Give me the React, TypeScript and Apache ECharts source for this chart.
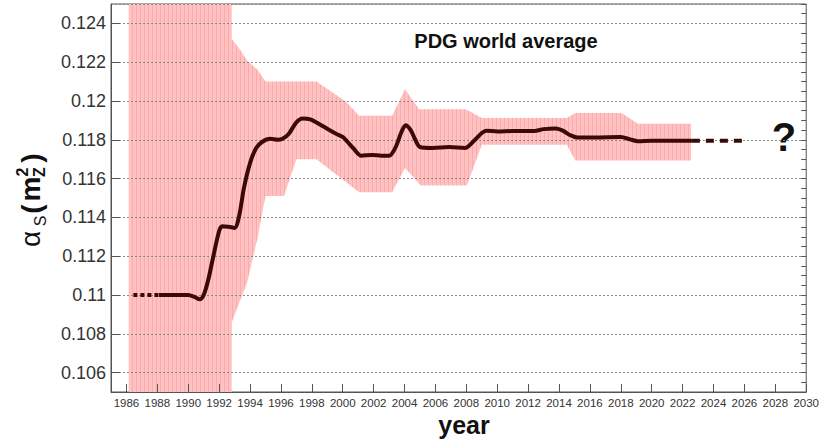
import React, { useEffect, useRef } from "react";
import * as echarts from "echarts";

// Central PDG world average (solid part)
const centralYears = [1988.1, 1989.0, 1990.0, 1990.4, 1990.75, 1991.0, 1991.3, 1991.6, 1992.0, 1992.2, 1992.6, 1993.0, 1993.3, 1993.6, 1994.0, 1994.4, 1994.8, 1995.3, 1995.8, 1996.1, 1996.5, 1997.0, 1997.4, 1997.9, 1998.5, 1999.1, 1999.6, 2000.0, 2000.3, 2000.7, 2001.2, 2001.9, 2002.5, 2003.0, 2003.4, 2003.8, 2004.07, 2004.4, 2004.7, 2005.0, 2005.8, 2006.9, 2007.9, 2008.5, 2009.0, 2009.3, 2010.0, 2011.0, 2012.4, 2013.0, 2013.8, 2014.3, 2014.7, 2015.2, 2016.3, 2018.0, 2018.6, 2019.1, 2020.0, 2022.6];
const centralValues = [0.1100, 0.1100, 0.1100, 0.1099, 0.10978, 0.1100, 0.1108, 0.1119, 0.1133, 0.11355, 0.11352, 0.11346, 0.1141, 0.1155, 0.1168, 0.11758, 0.1179, 0.11805, 0.118, 0.11805, 0.1183, 0.1189, 0.1191, 0.11905, 0.1188, 0.11852, 0.1183, 0.11815, 0.1179, 0.11755, 0.11718, 0.11722, 0.11718, 0.11718, 0.11758, 0.1184, 0.11875, 0.1185, 0.118, 0.11763, 0.11758, 0.11763, 0.11758, 0.11795, 0.11835, 0.11847, 0.11843, 0.11845, 0.11845, 0.11855, 0.11858, 0.11845, 0.11825, 0.11812, 0.11812, 0.11814, 0.11802, 0.11793, 0.11795, 0.11795];

// Early (dotted) and future (dashed) parts
const dottedYears = [1986.45, 1988.1];
const dottedValues = [0.1100, 0.1100];
const dashedYears = [2022.6, 2025.9];
const dashedValues = [0.11795, 0.11795];

// Uncertainty band
const bandYears = [1986.15, 1992.8, 1992.82, 1993.3, 1993.8, 1994.5, 1995.0, 1996.2, 1997.0, 1998.3, 2000.2, 2001.06, 2003.2, 2004.03, 2004.94, 2005.04, 2007.95, 2008.06, 2009.0, 2014.5, 2015.05, 2018.05, 2019.1, 2022.55];
const bandLow = [0.100, 0.100, 0.1086, 0.1096, 0.1106, 0.1130, 0.1151, 0.1151, 0.1170, 0.1170, 0.11583, 0.1153, 0.1153, 0.11655, 0.11575, 0.11564, 0.11564, 0.11570, 0.11775, 0.11775, 0.11693, 0.11693, 0.11693, 0.11693];
const bandHigh = [0.130, 0.130, 0.1232, 0.1227, 0.1221, 0.1216, 0.1210, 0.1210, 0.1210, 0.1210, 0.11998, 0.11924, 0.11924, 0.12061, 0.11958, 0.11958, 0.11958, 0.11953, 0.11912, 0.11912, 0.11938, 0.11938, 0.11883, 0.11883];

const FONT = "'Liberation Sans', Arial, Helvetica, sans-serif";
const LINE = "#3a0909";
const PINK = "#ffbaba";
const AXIS = "#555";

function zip(xs: number[], ys: number[]) {
  return xs.map((x, i) => [x, ys[i]]);
}

function makeStripes(): any {
  const c = document.createElement("canvas");
  c.width = 4;
  c.height = 4;
  const ctx = c.getContext("2d");
  if (!ctx) return PINK;
  ctx.fillStyle = "#ffc2c2";
  ctx.fillRect(0, 0, 4, 4);
  ctx.fillStyle = "#ffaaaa";
  ctx.fillRect(0, 0, 1, 4);
  return { image: c, repeat: "repeat" };
}

export default function App() {
  const ref = useRef<HTMLDivElement>(null);
  useEffect(() => {
    if (!ref.current) return;
    const chart = echarts.init(ref.current, undefined, { renderer: "svg" });
    const stripes = makeStripes();
    const rotText = (text: string, x: number, y: number, size: number, weight: string) => ({
      type: "text",
      x,
      y,
      rotation: Math.PI / 2,
      style: {
        text,
        fill: "#111",
        font: `${weight} ${size}px ${FONT}`,
        align: "center",
        verticalAlign: "middle",
        textAlign: "center",
        textVerticalAlign: "middle",
      },
    });
    const plainText = (text: string, x: number, y: number, size: number, weight: string) => ({
      type: "text",
      x,
      y,
      style: {
        text,
        fill: "#111",
        font: `${weight} ${size}px ${FONT}`,
        align: "center",
        verticalAlign: "middle",
        textAlign: "center",
        textVerticalAlign: "middle",
      },
    });
    const option: any = {
      animation: false,
      backgroundColor: "#fff",
      textStyle: { fontFamily: FONT },
      grid: {
        left: 111,
        top: 4,
        width: 698,
        height: 388,
        show: true,
        borderColor: AXIS,
        borderWidth: 1,
        backgroundColor: "transparent",
      },
      xAxis: {
        type: "value",
        min: 1985,
        max: 2030,
        minInterval: 2,
        maxInterval: 2,
        z: 2,
        axisLine: { show: true, lineStyle: { color: AXIS, width: 1 } },
        axisTick: { show: true, inside: true, length: 8, lineStyle: { color: AXIS } },
        axisLabel: {
          showMinLabel: false,
          fontSize: 11.5,
          color: "#333",
          margin: 5,
          fontFamily: FONT,
          formatter: (v: number) => String(Math.round(v)),
        },
        splitLine: { show: false },
      },
      yAxis: [
        {
          type: "value",
          min: 0.105,
          max: 0.125,
          minInterval: 0.002,
          maxInterval: 0.002,
          z: 2,
          axisLine: { show: true, lineStyle: { color: AXIS, width: 1 } },
          axisTick: { show: true, inside: true, length: 9, lineStyle: { color: AXIS } },
          axisLabel: { showMinLabel: false, showMaxLabel: false, fontSize: 18, color: "#333", margin: 5, fontFamily: FONT },
          splitLine: { show: true, lineStyle: { color: "#8a8a8a", type: [2, 2], width: 1 } },
        },
        {
          type: "value",
          min: 0.105,
          max: 0.125,
          interval: 0.0005,
          z: 2,
          axisLine: { show: false },
          axisTick: { show: true, inside: true, length: 5, lineStyle: { color: AXIS } },
          axisLabel: { show: false },
          splitLine: { show: false },
        },
      ],
      series: [
        {
          type: "custom",
          name: "band",
          data: [[bandYears[0], bandLow[0]]],
          encode: { x: 0, y: 1 },
          clip: true,
          silent: true,
          z: 1,
          renderItem: (_params: any, api: any) => {
            const top = bandYears.map((x, i) => api.coord([x, bandHigh[i]]));
            const bottom = bandYears.map((x, i) => api.coord([x, bandLow[i]])).reverse();
            return {
              type: "polygon",
              shape: { points: top.concat(bottom) },
              style: { fill: stripes, stroke: "none" },
            };
          },
        },
        {
          type: "line",
          name: "average",
          data: zip(centralYears, centralValues),
          symbol: "none",
          smooth: 0.3,
          lineStyle: { color: LINE, width: 4 },
          z: 4,
        },
        {
          type: "line",
          name: "early",
          data: zip(dottedYears, dottedValues),
          symbol: "none",
          lineStyle: { color: LINE, width: 4, type: [4, 3], cap: "butt" },
          z: 4,
        },
        {
          type: "line",
          name: "future",
          data: zip(dashedYears, dashedValues),
          symbol: "none",
          lineStyle: { color: LINE, width: 4, type: [8, 6], cap: "butt" },
          z: 4,
        },
      ],
      graphic: [
        plainText("PDG world average", 506, 41, 20, "bold"),
        plainText("?", 784, 137, 40, "bold"),
        plainText("year", 464, 425, 25, "bold"),
        rotText("α", 30, 239, 28, "normal"),
        rotText("S", 40, 221, 16, "normal"),
        rotText("(", 31, 209, 28, "bold"),
        rotText("m", 30, 189, 28, "bold"),
        rotText("2", 22, 172, 16, "bold"),
        rotText("Z", 39, 172, 16, "bold"),
        rotText(")", 31, 158, 28, "bold"),
      ],
    };
    chart.setOption(option);
    return () => chart.dispose();
  }, []);
  return (
    <div
      ref={ref}
      style={{ position: "fixed", left: 0, top: 0, width: 822, height: 443 }}
    />
  );
}
